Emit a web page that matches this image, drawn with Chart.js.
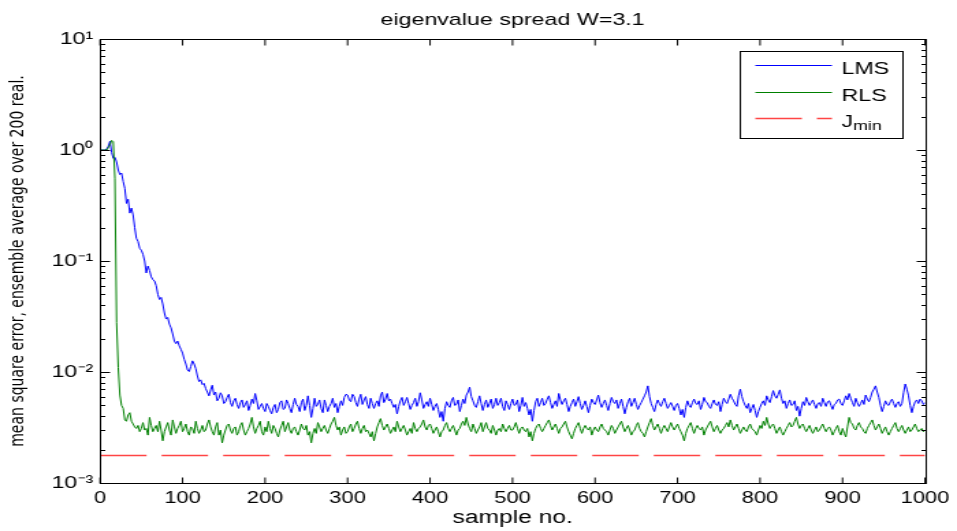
<!DOCTYPE html>
<html>
<head>
<meta charset="utf-8">
<script src="https://cdn.jsdelivr.net/npm/chart.js@4.4.1/dist/chart.umd.min.js"></script>
<style>
  html, body { margin: 0; padding: 0; background: #fff; }
</style>
</head>
<body>
<!-- the original figure is stretched sideways, so the canvas is too -->
<canvas id="mse" width="700" height="531" style="display:block;width:957px;height:531px"></canvas>
<script>
// sample number (every 2nd sample)
const sampleNo = [
  0,2,4,6,8,10,12,14,16,18,20,22,24,26,28,30,32,34,36,38,40,42,44,46,48,50,52,54,56,58,60,62,64,66,68,70,72,74,76,78,80,82,84,86,88,90,92,94,96,98,
  100,102,104,106,108,110,112,114,116,118,120,122,124,126,128,130,132,134,136,138,140,142,144,146,148,150,152,154,156,158,160,162,164,166,168,170,172,174,176,178,180,182,184,186,188,190,192,194,196,198,
  200,202,204,206,208,210,212,214,216,218,220,222,224,226,228,230,232,234,236,238,240,242,244,246,248,250,252,254,256,258,260,262,264,266,268,270,272,274,276,278,280,282,284,286,288,290,292,294,296,298,
  300,302,304,306,308,310,312,314,316,318,320,322,324,326,328,330,332,334,336,338,340,342,344,346,348,350,352,354,356,358,360,362,364,366,368,370,372,374,376,378,380,382,384,386,388,390,392,394,396,398,
  400,402,404,406,408,410,412,414,416,418,420,422,424,426,428,430,432,434,436,438,440,442,444,446,448,450,452,454,456,458,460,462,464,466,468,470,472,474,476,478,480,482,484,486,488,490,492,494,496,498,
  500,502,504,506,508,510,512,514,516,518,520,522,524,526,528,530,532,534,536,538,540,542,544,546,548,550,552,554,556,558,560,562,564,566,568,570,572,574,576,578,580,582,584,586,588,590,592,594,596,598,
  600,602,604,606,608,610,612,614,616,618,620,622,624,626,628,630,632,634,636,638,640,642,644,646,648,650,652,654,656,658,660,662,664,666,668,670,672,674,676,678,680,682,684,686,688,690,692,694,696,698,
  700,702,704,706,708,710,712,714,716,718,720,722,724,726,728,730,732,734,736,738,740,742,744,746,748,750,752,754,756,758,760,762,764,766,768,770,772,774,776,778,780,782,784,786,788,790,792,794,796,798,
  800,802,804,806,808,810,812,814,816,818,820,822,824,826,828,830,832,834,836,838,840,842,844,846,848,850,852,854,856,858,860,862,864,866,868,870,872,874,876,878,880,882,884,886,888,890,892,894,896,898,
  900,902,904,906,908,910,912,914,916,918,920,922,924,926,928,930,932,934,936,938,940,942,944,946,948,950,952,954,956,958,960,962,964,966,968,970,972,974,976,978,980,982,984,986,988,990,992,994,996,998,
  1000
];

const lmsMse = [
  1.0,1.0,1.0,1.0,1.02,1.08,1.2,0.95,0.84,0.86,0.78,0.66,0.6,0.62,0.52,0.45,0.33,0.36,0.27,0.3,0.26,0.2,0.16,0.15,0.13,0.125,0.115,0.1,0.078,0.09,0.082,0.072,0.068,0.066,0.06,0.05,0.045,0.047,0.041,0.034,0.03,0.031,0.027,0.025,0.022,0.019,0.018,0.019,0.0172,0.016,
  0.0148,0.013,0.0118,0.0104,0.0101,0.0112,0.0126,0.0118,0.0107,0.0092,0.0082,0.0085,0.0077,0.0079,0.0071,0.0066,0.0061,0.0069,0.0076,0.0062,0.0066,0.0055,0.0058,0.0065,0.0061,0.0052,0.0054,0.0059,0.0063,0.0053,0.0049,0.0055,0.0058,0.0051,0.0047,0.0053,0.0056,0.0048,0.0051,0.0055,0.0045,0.005,0.0057,0.0052,0.0064,0.0055,0.0046,0.0049,0.0052,0.0047,
  0.0044,0.0052,0.0049,0.0045,0.0042,0.0048,0.0051,0.0043,0.0046,0.0053,0.0055,0.0046,0.0047,0.0056,0.0052,0.0047,0.0043,0.0051,0.0058,0.0051,0.0049,0.0044,0.0053,0.0057,0.0045,0.005,0.0061,0.005,0.0039,0.0047,0.0058,0.0049,0.0051,0.0056,0.0047,0.0043,0.0056,0.005,0.0044,0.0049,0.0052,0.0058,0.0048,0.0052,0.0043,0.0049,0.0055,0.005,0.0059,0.0063,
  0.0062,0.0056,0.0054,0.0063,0.006,0.0053,0.0049,0.0057,0.0063,0.0051,0.0056,0.006,0.0051,0.0047,0.0058,0.0052,0.0047,0.0052,0.0055,0.0049,0.0061,0.0066,0.0053,0.0057,0.0064,0.0055,0.0057,0.0052,0.0048,0.0051,0.0042,0.0049,0.0055,0.0059,0.005,0.0054,0.0059,0.0052,0.0046,0.005,0.0053,0.0058,0.0049,0.0054,0.0065,0.0056,0.0047,0.0051,0.0054,0.0049,
  0.0058,0.0051,0.0045,0.0049,0.0052,0.0046,0.0039,0.0044,0.0036,0.0047,0.0054,0.005,0.0048,0.0055,0.0059,0.005,0.0051,0.0056,0.0044,0.005,0.0057,0.0052,0.0062,0.0066,0.0073,0.006,0.0055,0.005,0.0048,0.0054,0.0061,0.0052,0.0045,0.0051,0.0056,0.0048,0.0052,0.0057,0.0047,0.0051,0.0058,0.005,0.0053,0.0058,0.0049,0.0045,0.0055,0.0051,0.0046,0.0052,
  0.0057,0.005,0.0051,0.0056,0.0044,0.005,0.0059,0.0049,0.0053,0.0047,0.0041,0.0046,0.0036,0.0045,0.0054,0.0058,0.0049,0.0053,0.0058,0.005,0.0052,0.0057,0.0061,0.0053,0.0047,0.0051,0.0055,0.0049,0.0064,0.0056,0.0051,0.0055,0.0058,0.0051,0.0044,0.0049,0.0053,0.0057,0.0049,0.0054,0.006,0.0052,0.0046,0.005,0.0055,0.0049,0.0043,0.005,0.0057,0.0053,
  0.0051,0.0056,0.0062,0.0053,0.0048,0.0052,0.0056,0.005,0.0045,0.0052,0.0059,0.0054,0.0052,0.0056,0.0047,0.0052,0.0057,0.0049,0.0042,0.0048,0.0054,0.0058,0.0049,0.0053,0.0058,0.0051,0.0046,0.005,0.0053,0.0057,0.0061,0.0066,0.0075,0.006,0.0052,0.0048,0.0044,0.0051,0.0056,0.0052,0.0049,0.0054,0.0058,0.0052,0.0047,0.005,0.0053,0.0049,0.0045,0.005,
  0.0052,0.0047,0.0041,0.0046,0.0039,0.0048,0.0055,0.005,0.0048,0.0053,0.0057,0.0052,0.0051,0.0055,0.0046,0.0051,0.0059,0.0054,0.0053,0.0049,0.0047,0.0052,0.0056,0.0051,0.005,0.0054,0.0044,0.0051,0.0058,0.0054,0.0052,0.0057,0.0063,0.0058,0.0055,0.0051,0.0049,0.0061,0.007,0.006,0.0054,0.005,0.0047,0.0052,0.0043,0.0047,0.0051,0.0045,0.0039,0.0044,
  0.0048,0.0052,0.0055,0.005,0.0061,0.0056,0.0053,0.006,0.0068,0.0061,0.0058,0.0063,0.0069,0.0058,0.0052,0.0055,0.0047,0.0052,0.0056,0.005,0.0051,0.0055,0.0045,0.0049,0.004,0.0047,0.0054,0.005,0.0059,0.0054,0.005,0.0053,0.0056,0.0051,0.0047,0.0052,0.0053,0.0049,0.0058,0.0053,0.0049,0.0054,0.0055,0.005,0.0046,0.0051,0.0052,0.0056,0.0057,0.0052,
  0.005,0.0055,0.0061,0.0056,0.0064,0.0058,0.0053,0.0049,0.0058,0.0053,0.0049,0.0052,0.0056,0.0051,0.0062,0.0057,0.0054,0.0059,0.0066,0.007,0.0075,0.0066,0.0059,0.005,0.0044,0.0049,0.0055,0.0051,0.005,0.0054,0.0057,0.0052,0.0048,0.0052,0.0054,0.0049,0.0052,0.0065,0.0078,0.007,0.0061,0.005,0.0043,0.0049,0.0054,0.0056,0.0052,0.0057,0.0055,0.0051,
  0.0053
];

const rlsMse = [
  1.0,1.0,1.0,1.0,1.0,1.05,1.12,1.22,1.19,0.55,0.028,0.011,0.0062,0.005,0.0047,0.0037,0.0036,0.0041,0.0043,0.0036,0.0034,0.0032,0.0031,0.0033,0.0029,0.0031,0.0035,0.003,0.0031,0.0027,0.0039,0.0033,0.0029,0.0031,0.0033,0.0029,0.0036,0.003,0.0024,0.0029,0.0032,0.0035,0.003,0.0027,0.0037,0.0032,0.0028,0.0031,0.0033,0.0036,
  0.0029,0.0031,0.0034,0.0029,0.0027,0.0032,0.0031,0.0028,0.0036,0.0031,0.0028,0.003,0.0033,0.0029,0.003,0.0034,0.0037,0.0032,0.0029,0.0027,0.0032,0.0035,0.0027,0.003,0.0023,0.0027,0.003,0.0033,0.0034,0.003,0.0028,0.0031,0.0032,0.0027,0.0029,0.0033,0.0035,0.003,0.0027,0.0029,0.0031,0.0034,0.0039,0.0032,0.0028,0.0031,0.0033,0.0036,0.0029,0.0027,
  0.0032,0.0029,0.0036,0.0031,0.0028,0.0033,0.0031,0.0028,0.0026,0.003,0.0033,0.0036,0.0029,0.0032,0.0035,0.003,0.0028,0.0031,0.0032,0.0029,0.0027,0.003,0.0034,0.0031,0.003,0.0033,0.0027,0.0029,0.0023,0.0028,0.0031,0.0028,0.0035,0.0032,0.0029,0.0031,0.0033,0.003,0.0028,0.0031,0.0034,0.0036,0.0039,0.0033,0.003,0.0032,0.0027,0.003,0.0032,0.0028,
  0.0029,0.0032,0.0034,0.0029,0.0031,0.0034,0.0036,0.0031,0.0028,0.0031,0.0033,0.0029,0.003,0.0028,0.0026,0.0029,0.0024,0.0028,0.0032,0.0035,0.0038,0.0033,0.003,0.0032,0.0034,0.0031,0.0028,0.003,0.0032,0.0029,0.0036,0.0032,0.0029,0.0031,0.0033,0.003,0.0027,0.0029,0.0031,0.0028,0.0035,0.0031,0.0029,0.0031,0.0032,0.0034,0.0037,0.0032,0.003,0.0033,
  0.0034,0.0031,0.0028,0.003,0.0032,0.0029,0.0026,0.0029,0.003,0.0033,0.0035,0.0031,0.0029,0.0031,0.0033,0.003,0.0027,0.003,0.0031,0.0034,0.0036,0.0033,0.0039,0.0034,0.0031,0.0029,0.0034,0.0031,0.0028,0.003,0.0032,0.0035,0.0029,0.0032,0.0035,0.0031,0.003,0.0028,0.0033,0.003,0.0027,0.003,0.0031,0.0029,0.0034,0.0031,0.0029,0.0031,0.0033,0.003,
  0.003,0.0032,0.0035,0.0031,0.0028,0.0031,0.0032,0.003,0.0029,0.0031,0.0026,0.0029,0.0024,0.0028,0.0031,0.0033,0.0034,0.0031,0.0029,0.0031,0.0033,0.0035,0.0037,0.0033,0.003,0.0032,0.0034,0.0031,0.0028,0.0031,0.0032,0.0034,0.0036,0.0032,0.0029,0.0027,0.0025,0.0028,0.0031,0.0033,0.0035,0.0031,0.0028,0.0031,0.0033,0.0031,0.003,0.0032,0.0027,0.003,
  0.0032,0.003,0.0029,0.0032,0.0034,0.0031,0.003,0.0029,0.0027,0.003,0.0033,0.0031,0.0028,0.003,0.0032,0.0034,0.0036,0.0032,0.0029,0.0031,0.0033,0.003,0.0027,0.0029,0.003,0.0033,0.0035,0.0031,0.0029,0.0028,0.0026,0.0029,0.0032,0.0035,0.0038,0.0033,0.003,0.0032,0.0034,0.0031,0.0028,0.0031,0.0033,0.0031,0.0029,0.0032,0.0035,0.0032,0.003,0.0032,
  0.0034,0.0031,0.0029,0.0027,0.0024,0.0028,0.0031,0.0033,0.0035,0.0031,0.0028,0.0031,0.0033,0.0031,0.003,0.0032,0.0027,0.003,0.0032,0.0034,0.0036,0.0032,0.0029,0.0031,0.0033,0.003,0.0028,0.003,0.0031,0.0033,0.0035,0.0032,0.0037,0.0033,0.003,0.0032,0.0034,0.0031,0.0028,0.003,0.0032,0.003,0.0029,0.0032,0.0034,0.0031,0.003,0.0029,0.0027,0.003,
  0.0033,0.0031,0.0036,0.0033,0.0039,0.0034,0.0031,0.0033,0.0034,0.0031,0.0028,0.003,0.0032,0.0029,0.0027,0.0029,0.0031,0.0033,0.0035,0.0032,0.0033,0.0036,0.0039,0.0034,0.0031,0.0033,0.0034,0.0031,0.0029,0.0031,0.0033,0.003,0.0028,0.003,0.0032,0.0029,0.003,0.0032,0.0034,0.0031,0.0029,0.0031,0.0032,0.003,0.0027,0.0029,0.0031,0.0033,0.0029,0.0027,
  0.0031,0.0028,0.0026,0.0032,0.0039,0.0035,0.0034,0.0031,0.003,0.0033,0.0035,0.0032,0.0031,0.0029,0.0028,0.0031,0.0033,0.0035,0.0037,0.0033,0.003,0.0032,0.0034,0.0031,0.0028,0.003,0.0032,0.0029,0.0027,0.0029,0.0031,0.0033,0.0035,0.0031,0.0029,0.0031,0.0033,0.003,0.0028,0.003,0.0032,0.0029,0.003,0.0032,0.0034,0.0031,0.0029,0.003,0.0031,0.0029,
  0.003
];

const jMin = 0.00177;

const xTicks = [0,100,200,300,400,500,600,700,800,900,1000];
const yDecades = [0.001,0.01,0.1,1,10];
const yTickLabels = ['10⁻³','10⁻²','10⁻¹','10⁰','10¹'];
const minorSteps = [2,3,4,5,6,7,8,9];

const FONT = 'Liberation Sans';

// MATLAB style box with inward ticks on all four sides
const matlabAxes = {
  id: 'matlabAxes',
  afterDatasetsDraw(chart) {
    const {ctx, chartArea: a, scales: {x, y}} = chart;
    const L = Math.round(a.left) + 0.5, R = Math.round(a.right) + 0.5;
    const T = Math.round(a.top) + 0.5, B = Math.round(a.bottom) + 0.5;
    ctx.save();
    ctx.strokeStyle = '#000';
    ctx.lineWidth = 1;
    ctx.beginPath();
    xTicks.forEach(v => {
      const px = x.getPixelForValue(v);
      ctx.moveTo(px, B); ctx.lineTo(px, B - 6);
      ctx.moveTo(px, T); ctx.lineTo(px, T + 6);
    });
    yDecades.forEach(d => {
      let py = Math.round(y.getPixelForValue(d)) + 0.5;
      ctx.moveTo(L, py); ctx.lineTo(L + 7, py);
      ctx.moveTo(R, py); ctx.lineTo(R - 7, py);
      minorSteps.forEach(m => {
        if (m * d >= 10) return;
        py = Math.round(y.getPixelForValue(m * d)) + 0.5;
        ctx.moveTo(L, py); ctx.lineTo(L + 3.5, py);
        ctx.moveTo(R, py); ctx.lineTo(R - 3.5, py);
      });
    });
    ctx.stroke();
    ctx.strokeRect(L, T, R - L, B - T);
    ctx.restore();
  }
};

// boxed legend in the upper right corner, with subscript support (J_min)
const legendBox = {
  id: 'legendBox',
  afterDatasetsDraw(chart) {
    const {ctx, chartArea: a} = chart;
    const w = 119, h = 87;
    const left = Math.round(a.right - 17 - w) + 0.5;
    const top = Math.round(a.top + 12) + 0.5;
    ctx.save();
    ctx.fillStyle = '#fff';
    ctx.fillRect(left, top, w, h);
    ctx.strokeStyle = '#000';
    ctx.lineWidth = 1;
    ctx.strokeRect(left, top, w, h);
    chart.data.datasets.forEach((ds, i) => {
      const ly = Math.round(top + 13.5 + i * 26.7) + 0.5;
      ctx.strokeStyle = ds.borderColor;
      ctx.lineWidth = ds.borderWidth;
      ctx.setLineDash(ds.borderDash || []);
      ctx.beginPath();
      ctx.moveTo(left + 11, ly);
      ctx.lineTo(left + 67, ly);
      ctx.stroke();
      ctx.setLineDash([]);
      const [main, sub] = ds.label.split('_');
      ctx.fillStyle = '#000';
      ctx.textBaseline = 'alphabetic';
      ctx.font = `17px "${FONT}"`;
      ctx.fillText(main, left + 74, ly + 8.5);
      if (sub) {
        const mw = ctx.measureText(main).width;
        ctx.font = `13px "${FONT}"`;
        ctx.fillText(sub, left + 74 + mw, ly + 11.5);
      }
    });
    ctx.restore();
  }
};

Chart.defaults.font.family = FONT;
Chart.defaults.color = '#000';

new Chart(document.getElementById('mse'), {
  type: 'line',
  data: {
    datasets: [
      {
        label: 'LMS',
        data: sampleNo.map((n, i) => ({x: n, y: lmsMse[i]})),
        borderColor: '#0000ff',
        borderWidth: 1,
        pointRadius: 0,
        order: 1
      },
      {
        label: 'RLS',
        data: sampleNo.map((n, i) => ({x: n, y: rlsMse[i]})),
        borderColor: '#008000',
        borderWidth: 1,
        pointRadius: 0,
        order: 0
      },
      {
        label: 'J_min',
        data: [{x: sampleNo[0], y: jMin}, {x: sampleNo[sampleNo.length - 1], y: jMin}],
        borderColor: '#ff4444',
        borderWidth: 1.5,
        borderDash: [34, 11],
        pointRadius: 0,
        order: 2
      }
    ]
  },
  options: {
    responsive: false,
    animation: false,
    devicePixelRatio: 1,
    layout: {padding: {left: 0, right: 22, top: 0, bottom: 0}},
    plugins: {
      legend: {display: false},
      tooltip: {enabled: false},
      title: {
        display: true,
        fullSize: false,
        text: 'eigenvalue spread W=3.1',
        font: {size: 17, weight: 'normal'},
        padding: {top: 10.6, bottom: 8}
      }
    },
    scales: {
      x: {
        type: 'linear',
        min: 0,
        max: 1000,
        afterBuildTicks: s => { s.ticks = xTicks.map(v => ({value: v})); },
        ticks: {font: {size: 16}, padding: 5.6, maxRotation: 0, autoSkip: false, callback: v => String(v)},
        grid: {display: false, drawTicks: false},
        border: {display: false},
        title: {display: true, text: 'sample no.', font: {size: 18}, padding: {top: 0, bottom: 1.7}},
        afterFit: s => { s.height = 48; }
      },
      y: {
        type: 'logarithmic',
        min: 0.001,
        max: 10,
        afterBuildTicks: s => { s.ticks = yDecades.map(v => ({value: v})); },
        ticks: {
          font: {size: 17},
          padding: 5,
          autoSkip: false,
          callback: v => yTickLabels[yDecades.findIndex(d => Math.abs(d - v) / d < 1e-6)] ?? ''
        },
        grid: {display: false, drawTicks: false},
        border: {display: false},
        title: {
          display: true,
          text: 'mean square error, ensemble average over 200 real.',
          font: {family: 'DejaVu Sans', size: 14},
          padding: {top: 5, bottom: 0}
        },
        afterFit: s => { s.width = 73.2; }
      }
    }
  },
  plugins: [matlabAxes, legendBox]
});
</script>
</body>
</html>
